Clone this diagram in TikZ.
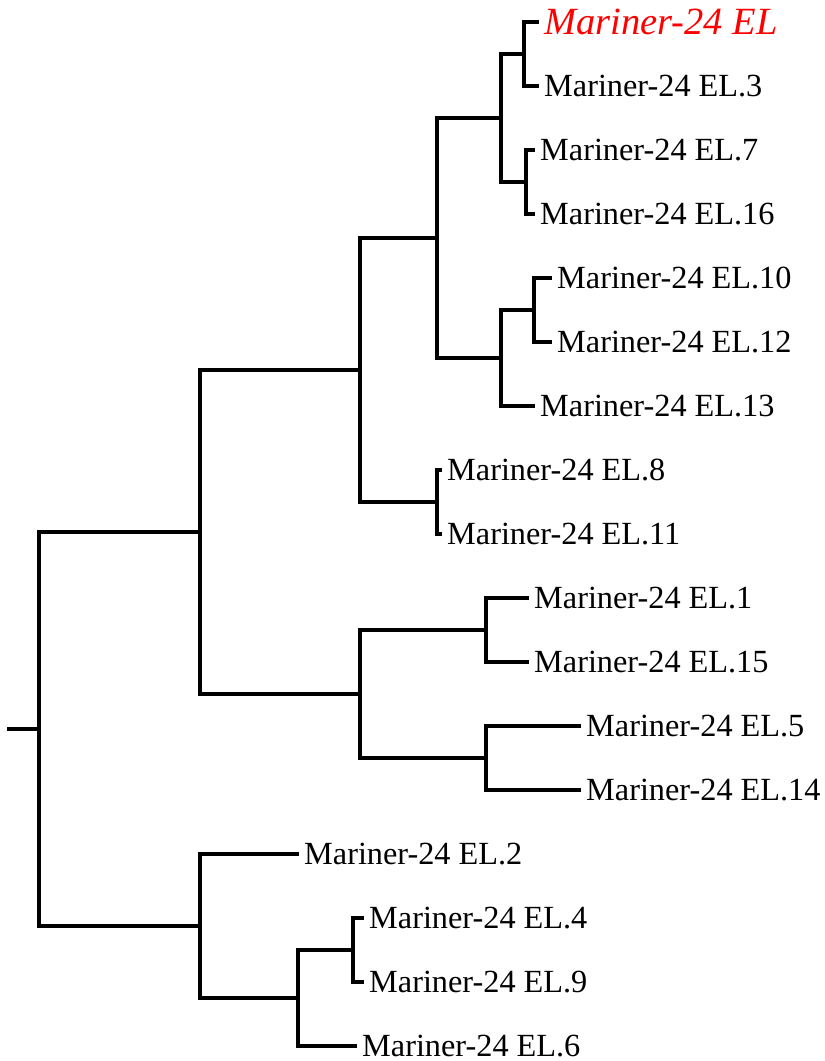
\documentclass[tikz,border=0pt]{standalone}
\usepackage{fontspec}
\setmainfont{Liberation Serif}
\begin{document}
\begin{tikzpicture}[x=1pt,y=-1pt,
  branch/.style={line width=3.6pt,line cap=rect,line join=miter,black},
  leaf/.style={anchor=west,inner ysep=0pt,inner xsep=7pt,font=\fontsize{32.3}{36}\selectfont},
  hilite/.style={anchor=west,inner ysep=0pt,inner xsep=7pt,text=red,font=\fontsize{38.5}{44}\selectfont\itshape}]
\useasboundingbox (0,0) rectangle (825,1061);
% leaves
\node[hilite] (l0)  at (537,22)   {Mariner-24 EL};
\node[leaf]   (l3)  at (537,86)   {Mariner-24 EL.3};
\node[leaf]   (l7)  at (533,150)  {Mariner-24 EL.7};
\node[leaf]   (l16) at (533,214)  {Mariner-24 EL.16};
\node[leaf]   (l10) at (550,278)  {Mariner-24 EL.10};
\node[leaf]   (l12) at (550,342)  {Mariner-24 EL.12};
\node[leaf]   (l13) at (533,406)  {Mariner-24 EL.13};
\node[leaf]   (l8)  at (440,470)  {Mariner-24 EL.8};
\node[leaf]   (l11) at (440,534)  {Mariner-24 EL.11};
\node[leaf]   (l1)  at (527,598)  {Mariner-24 EL.1};
\node[leaf]   (l15) at (527,662)  {Mariner-24 EL.15};
\node[leaf]   (l5)  at (579,726)  {Mariner-24 EL.5};
\node[leaf]   (l14) at (579,790)  {Mariner-24 EL.14};
\node[leaf]   (l2)  at (297,854)  {Mariner-24 EL.2};
\node[leaf]   (l4)  at (362,918)  {Mariner-24 EL.4};
\node[leaf]   (l9)  at (362,982)  {Mariner-24 EL.9};
\node[leaf]   (l6)  at (355,1046) {Mariner-24 EL.6};
% internal nodes
\coordinate (n1)  at (524,54);
\coordinate (n2)  at (526,182);
\coordinate (n3)  at (501,118);
\coordinate (n4)  at (534,310);
\coordinate (n5)  at (501,358);
\coordinate (n6)  at (437,238);
\coordinate (n7)  at (437,502);
\coordinate (n8)  at (360,370);
\coordinate (n9)  at (486,630);
\coordinate (n10) at (486,758);
\coordinate (n11) at (360,694);
\coordinate (n12) at (200,532);
\coordinate (n13) at (353,950);
\coordinate (n14) at (298,998);
\coordinate (n15) at (200,926);
\coordinate (root) at (39,729);
\coordinate (stub) at (9,729);
% branches
\draw[branch] (n1) |- (l0.west);
\draw[branch] (n1) |- (l3.west);
\draw[branch] (n2) |- (l7.west);
\draw[branch] (n2) |- (l16.west);
\draw[branch] (n3) |- (n1);
\draw[branch] (n3) |- (n2);
\draw[branch] (n4) |- (l10.west);
\draw[branch] (n4) |- (l12.west);
\draw[branch] (n5) |- (n4);
\draw[branch] (n5) |- (l13.west);
\draw[branch] (n6) |- (n3);
\draw[branch] (n6) |- (n5);
\draw[branch] (n7) |- (l8.west);
\draw[branch] (n7) |- (l11.west);
\draw[branch] (n8) |- (n6);
\draw[branch] (n8) |- (n7);
\draw[branch] (n9) |- (l1.west);
\draw[branch] (n9) |- (l15.west);
\draw[branch] (n10) |- (l5.west);
\draw[branch] (n10) |- (l14.west);
\draw[branch] (n11) |- (n9);
\draw[branch] (n11) |- (n10);
\draw[branch] (n12) |- (n8);
\draw[branch] (n12) |- (n11);
\draw[branch] (n13) |- (l4.west);
\draw[branch] (n13) |- (l9.west);
\draw[branch] (n14) |- (n13);
\draw[branch] (n14) |- (l6.west);
\draw[branch] (n15) |- (l2.west);
\draw[branch] (n15) |- (n14);
\draw[branch] (root) |- (n12);
\draw[branch] (root) |- (n15);
\draw[branch] (stub) -- (root);
\end{tikzpicture}
\end{document}
